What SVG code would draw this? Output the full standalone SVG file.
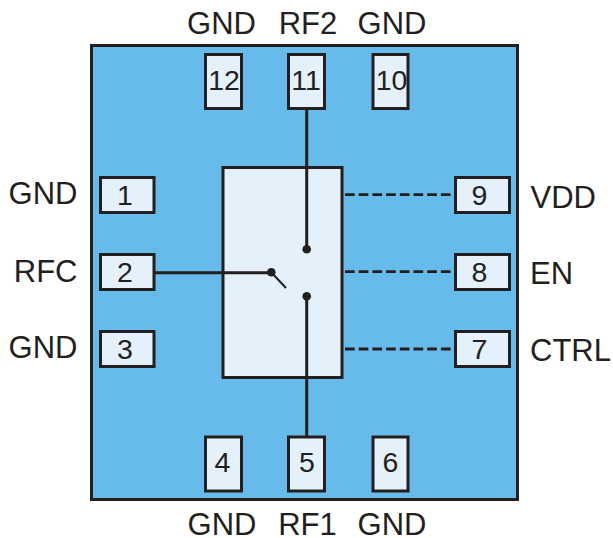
<svg xmlns="http://www.w3.org/2000/svg" width="613" height="538" viewBox="0 0 613 538">
<style>
.t{font-family:"Liberation Sans",Arial,sans-serif;font-size:31px;fill:#231f20;text-anchor:middle}
.l{font-family:"Liberation Sans",Arial,sans-serif;font-size:31px;fill:#231f20}
.r{font-family:"Liberation Sans",Arial,sans-serif;font-size:31px;fill:#231f20;text-anchor:end}
.p{fill:#e4f1fb;stroke:#231f20;stroke-width:3}
.w{fill:none;stroke:#231f20;stroke-width:3}
.d{fill:none;stroke:#231f20;stroke-width:2.800;stroke-dasharray:9.700 4}
.n{font-family:"Liberation Sans",Arial,sans-serif;font-size:28.500px;fill:#231f20;text-anchor:middle}
</style>
<rect id="package" x="91.500" y="45.500" width="426" height="454" fill="#66bbeb" stroke="#231f20" stroke-width="3"/>
<g id="switch"><rect x="223" y="167.500" width="119" height="210" class="p"/></g>
<g id="connectors">
<path class="w" d="M306.700 109V249M306.700 296V436M155 272.700H271"/>
<path d="M271 272L286 288" fill="none" stroke="#231f20" stroke-width="2"/>
<circle cx="306.700" cy="249.300" r="4.300" fill="#231f20"/><circle cx="306.700" cy="296.300" r="4.300" fill="#231f20"/><circle cx="271.300" cy="272.300" r="4.300" fill="#231f20"/>
<path class="d" d="M345 194.700H451M345 271.700H451M345 349H451"/>
</g>
<g id="pin12"><rect class="p" x="205.500" y="54.500" width="36" height="54"/><text class="n" x="224" y="89.500">12</text></g>
<g id="pin11"><rect class="p" x="288.500" y="54.500" width="36" height="54"/><text class="n" x="306" y="89.500">11</text></g>
<g id="pin10"><rect class="p" x="373" y="54.500" width="35" height="54"/><text class="n" x="391.500" y="89.500">10</text></g>
<g id="pin1"><rect class="p" x="100.500" y="177.500" width="53.500" height="35"/><text class="n" x="125" y="205">1</text></g>
<g id="pin2"><rect class="p" x="100.500" y="254.500" width="53.500" height="35"/><text class="n" x="125" y="282">2</text></g>
<g id="pin3"><rect class="p" x="100.500" y="331.500" width="53.500" height="35"/><text class="n" x="125" y="358.500">3</text></g>
<g id="pin9"><rect class="p" x="455.500" y="177.500" width="54" height="35"/><text class="n" x="479.500" y="205">9</text></g>
<g id="pin8"><rect class="p" x="455.500" y="254.500" width="54" height="35"/><text class="n" x="479.500" y="282">8</text></g>
<g id="pin7"><rect class="p" x="455.500" y="331.500" width="54" height="35"/><text class="n" x="479.500" y="358.500">7</text></g>
<g id="pin4"><rect class="p" x="205.500" y="437" width="36" height="54"/><text class="n" x="222.500" y="472">4</text></g>
<g id="pin5"><rect class="p" x="288.500" y="437" width="36" height="54"/><text class="n" x="307" y="472">5</text></g>
<g id="pin6"><rect class="p" x="373" y="437" width="35" height="54"/><text class="n" x="390.500" y="472">6</text></g>
<text class="t" x="221.500" y="34">GND</text><text class="t" x="308" y="34">RF2</text><text class="t" x="392" y="34">GND</text>
<text class="t" x="222" y="535">GND</text><text class="t" x="307.500" y="535">RF1</text><text class="t" x="392" y="535">GND</text>
<text class="r" x="77.500" y="204">GND</text><text class="r" x="77.500" y="282">RFC</text><text class="r" x="77.500" y="358">GND</text>
<text class="l" x="530.500" y="208">VDD</text><text class="l" x="530" y="284">EN</text><text class="l" x="530" y="360.500">CTRL</text>
</svg>
